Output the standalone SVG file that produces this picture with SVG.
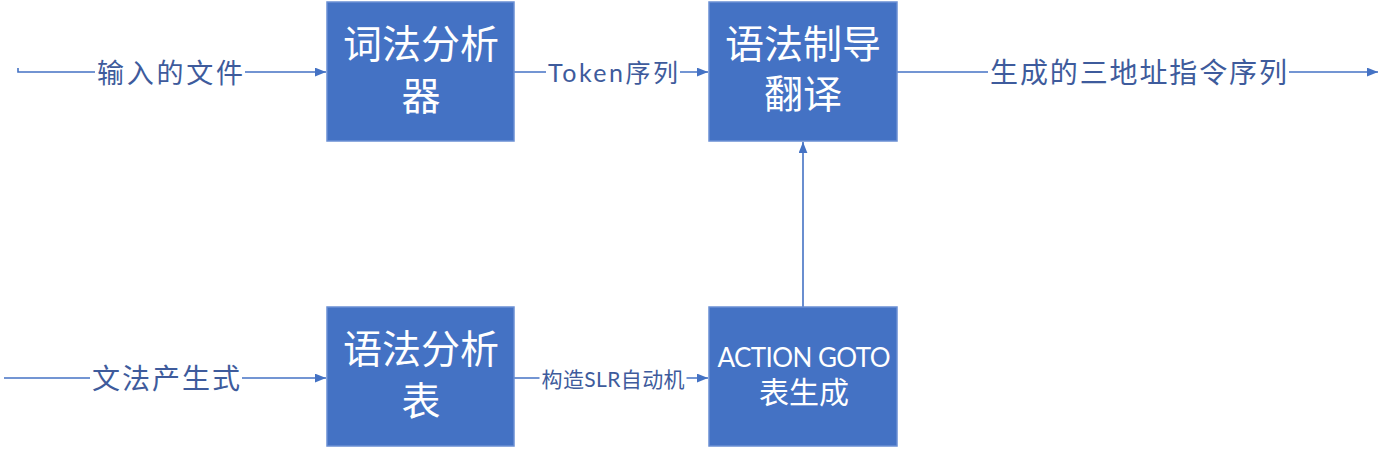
<svg xmlns="http://www.w3.org/2000/svg" width="1383" height="449" viewBox="0 0 1383 449">
<style>
.box{fill:#4472C4;stroke:#6a8fd3;stroke-width:1.5}
.bt{fill:#fff;font-family:"Lato","Noto Sans CJK SC",sans-serif;text-anchor:middle}
.ln{fill:none;stroke:#4472C4;stroke-width:1.6}
.lb{fill:#3e5b9c;font-family:"Lato","Noto Sans CJK SC",sans-serif;text-anchor:middle;dominant-baseline:central}
.bg{fill:#fff}
</style>
<defs>
<marker id="ah" viewBox="0 0 10 8" refX="10" refY="4" markerWidth="11" markerHeight="9" markerUnits="userSpaceOnUse" orient="auto">
<path d="M0,0 L10,4 L0,8 Z" fill="#4472C4"/>
</marker>
</defs>
<g id="connectors">
<path class="ln" d="M18,68 L18,72 L326,72" marker-end="url(#ah)"/>
<rect class="bg" x="95" y="56" width="150" height="32"/>
<text class="lb" x="170" y="72" font-size="27" textLength="146" lengthAdjust="spacing">输入的文件</text>
<path class="ln" d="M514,72 L708,72" marker-end="url(#ah)"/>
<rect class="bg" x="546" y="58" width="134" height="28"/>
<text class="lb" x="613" y="72" font-size="25" textLength="130" lengthAdjust="spacing">Token序列</text>
<path class="ln" d="M897,72 L1378,72" marker-end="url(#ah)"/>
<rect class="bg" x="988" y="56" width="301" height="32"/>
<text class="lb" x="1138.5" y="72" font-size="28" textLength="297" lengthAdjust="spacing">生成的三地址指令序列</text>
<path class="ln" d="M4,378 L326,378" marker-end="url(#ah)"/>
<rect class="bg" x="90" y="362" width="152" height="32"/>
<text class="lb" x="166" y="378" font-size="28" textLength="148" lengthAdjust="spacing">文法产生式</text>
<path class="ln" d="M514,378 L708,378" marker-end="url(#ah)"/>
<rect class="bg" x="539.5" y="366" width="147" height="24"/>
<text class="lb" x="613" y="378" font-size="21" textLength="143" lengthAdjust="spacing">构造SLR自动机</text>
<path class="ln" d="M803,307 L803,142" marker-end="url(#ah)"/>
</g>
<g id="n1">
<rect class="box" x="327" y="2" width="187" height="139"/>
<text class="bt" x="421" y="58" font-size="39">词法分析</text>
<text class="bt" x="421" y="110" font-size="39">器</text>
</g>
<g id="n2">
<rect class="box" x="709" y="2" width="188" height="139"/>
<text class="bt" x="803" y="58" font-size="39">语法制导</text>
<text class="bt" x="803" y="108" font-size="39">翻译</text>
</g>
<g id="n3">
<rect class="box" x="327" y="307" width="187" height="139"/>
<text class="bt" x="421" y="363" font-size="39">语法分析</text>
<text class="bt" x="421" y="415" font-size="39">表</text>
</g>
<g id="n4">
<rect class="box" x="709" y="307" width="188" height="139"/>
<text class="bt" x="804" y="367" font-size="26" textLength="173" lengthAdjust="spacing">ACTION GOTO</text>
<text class="bt" x="804" y="403" font-size="30">表生成</text>
</g>
</svg>
